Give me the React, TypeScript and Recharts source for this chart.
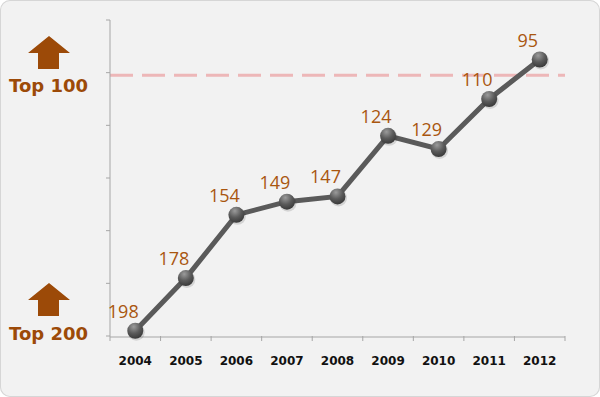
import React from 'react';
import { LineChart, Line, XAxis, YAxis, ReferenceLine, LabelList } from 'recharts';

const years = ['2004', '2005', '2006', '2007', '2008', '2009', '2010', '2011', '2012'];
const ranks = [198, 178, 154, 149, 147, 124, 129, 110, 95];
const rankTicks = [80, 100, 120, 140, 160, 180, 200];
const targetRank = 101;
const sideLabels = ['Top 100', 'Top 200'];

const BROWN = '#9c4a08';
const LABEL_BROWN = '#a9560f';
const AXIS = '#a6a6a6';

// slot = centre of each year's band on a 0..n numeric scale, used for the between-category tick marks
const data = years.map((year, i) => ({ year, rank: ranks[i], slot: i + 0.5 }));
const boundaryTicks = Array.from({ length: years.length + 1 }, (_, i) => i);

const EmptyTick = () => <g />;

const RankDot = (props: any) => {
  const { cx, cy, index } = props;
  if (cx == null || cy == null) return null;
  const id = `dot-grad-${index}`;
  return (
    <g key={id}>
      <defs>
        <radialGradient id={id} cx="40%" cy="25%" r="75%">
          <stop offset="0%" stopColor="#9b9b9b" />
          <stop offset="55%" stopColor="#5b5b5b" />
          <stop offset="100%" stopColor="#3a3a3a" />
        </radialGradient>
      </defs>
      <circle cx={cx + 1} cy={cy + 1.5} r={8.5} fill="rgba(0,0,0,0.12)" />
      <circle cx={cx} cy={cy} r={8} fill={`url(#${id})`} />
    </g>
  );
};

const RankLabel = (props: any) => {
  const { x, y, value } = props;
  return (
    <text
      x={x - 12}
      y={y - 13}
      textAnchor="middle"
      fill={LABEL_BROWN}
      fontSize={18}
      fontFamily="'Open Sans', sans-serif"
    >
      {value}
    </text>
  );
};

const YearTick = (props: any) => {
  const { x, y, payload } = props;
  return (
    <text
      x={x}
      y={y}
      dy={20}
      textAnchor="middle"
      fill="#111"
      fontSize={12}
      fontWeight="bold"
      fontFamily="'DejaVu Sans', sans-serif"
    >
      {payload.value}
    </text>
  );
};

const Arrow = ({ top }: { top: number }) => (
  <polygon
    points={`49,${top} 70,${top + 17} 59,${top + 17} 59,${top + 33} 38,${top + 33} 38,${top + 17} 28,${top + 17}`}
    fill={BROWN}
  />
);

export default function App() {
  return (
    <div
      style={{
        position: 'absolute',
        top: 0,
        left: 0,
        width: 600,
        height: 397,
        background: '#f2f2f2',
        borderRadius: 10,
        boxShadow: 'inset 0 0 0 1px #d6d6d6',
        overflow: 'hidden',
      }}
    >
      <LineChart
        width={600}
        height={397}
        data={data}
        margin={{ top: 20, right: 35, left: 100, bottom: 30 }}
      >
        <XAxis
          xAxisId="a-bounds"
          dataKey="slot"
          type="number"
          domain={[0, years.length]}
          ticks={boundaryTicks}
          allowDataOverflow
          tick={<EmptyTick />}
          axisLine={false}
          tickLine={{ stroke: AXIS }}
          tickSize={5}
          height={1}
          interval={0}
        />
        <XAxis
          xAxisId="b-years"
          dataKey="year"
          scale="band"
          tickLine={false}
          axisLine={{ stroke: AXIS }}
          tick={<YearTick />}
          height={30}
          interval={0}
        />
        <YAxis
          type="number"
          domain={[80, 200]}
          reversed
          ticks={rankTicks}
          tick={<EmptyTick />}
          tickSize={4}
          tickLine={{ stroke: AXIS }}
          axisLine={{ stroke: AXIS }}
          width={10}
        />
        <ReferenceLine
          xAxisId="b-years"
          y={targetRank}
          stroke="#edb7b8"
          strokeWidth={3}
          strokeDasharray="23 9"
        />
        <Line
          xAxisId="b-years"
          dataKey="rank"
          stroke="#5a5a5a"
          strokeWidth={5}
          dot={<RankDot />}
          activeDot={false}
          isAnimationActive={false}
        >
          <LabelList dataKey="rank" content={<RankLabel />} />
        </Line>
      </LineChart>
      <svg
        width={110}
        height={397}
        style={{ position: 'absolute', top: 0, left: 0, pointerEvents: 'none' }}
      >
        <Arrow top={36} />
        <text x={9} y={92} fill={BROWN} fontSize={18} fontWeight="bold" fontFamily="'DejaVu Sans', sans-serif">
          {sideLabels[0]}
        </text>
        <Arrow top={283} />
        <text x={9} y={340} fill={BROWN} fontSize={18} fontWeight="bold" fontFamily="'DejaVu Sans', sans-serif">
          {sideLabels[1]}
        </text>
      </svg>
    </div>
  );
}
